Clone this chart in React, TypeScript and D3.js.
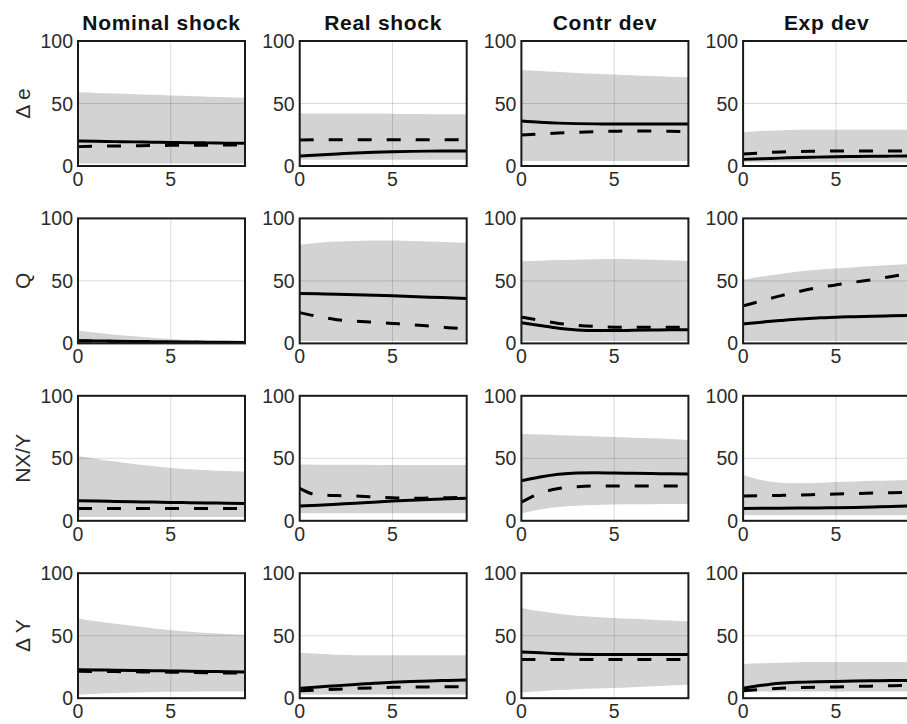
import React from "react";
import * as d3 from "d3";

// shocks (columns) and variables (rows)
const shocks = ["Nominal shock", "Real shock", "Contr dev", "Exp dev"];
const variables = ["\u0394 e", "Q", "NX/Y", "\u0394 Y"];
const horizons = [0, 1, 2, 3, 4, 5, 6, 7, 8, 9];
const xTicks = [0, 5];
const yTicks = [0, 50, 100];

// Δe row: one array per shock
const deHi = [
  [59, 58.5, 58, 57.5, 57, 56.5, 56, 55.5, 55, 54.6],
  [42, 42, 42, 42, 42, 41.8, 41.6, 41.5, 41.4, 41.3],
  [76.8, 76, 75.2, 74.5, 73.8, 73.2, 72.6, 72, 71.5, 71],
  [27, 28, 28.5, 29, 29, 29, 29, 29, 29, 29],
];
const deLo = [
  [2, 2, 2, 2, 2, 2, 2, 2, 2, 2],
  [5, 5, 5, 5, 5, 5, 5, 5, 5, 5],
  [4, 4, 4, 4, 4, 4, 4, 4, 4, 4],
  [3, 3, 3, 3, 3, 3, 3, 3, 3, 3],
];
const deSolid = [
  [20, 19.8, 19.5, 19.3, 19, 18.8, 18.6, 18.5, 18.3, 18.2],
  [8, 8.8, 9.6, 10.4, 11, 11.4, 11.7, 11.9, 12, 12.1],
  [36, 35, 34.3, 33.9, 33.7, 33.6, 33.6, 33.6, 33.6, 33.6],
  [5.3, 5.8, 6.3, 6.8, 7.1, 7.4, 7.6, 7.8, 7.9, 8],
];
const deDash = [
  [15.5, 15.8, 16, 16.2, 16.4, 16.5, 16.6, 16.7, 16.8, 16.8],
  [20.8, 21, 21, 21.1, 21.1, 21.1, 21.1, 21, 21, 21],
  [24.8, 25.6, 26.4, 27, 27.5, 27.8, 28, 28, 27.8, 27.6],
  [9.6, 10.5, 11.2, 11.6, 11.8, 12, 12, 12, 12, 12],
];

// Q row
const qHi = [
  [10.3, 8.5, 7, 5.8, 4.6, 3.6, 2.8, 2.1, 1.6, 1.2],
  [79, 80.5, 81.5, 82, 82.4, 82.3, 81.9, 81.5, 81, 80.5],
  [65.7, 66.2, 66.7, 67, 67.3, 67.5, 67.3, 67, 66.5, 66],
  [51, 53.5, 55.5, 57.5, 59, 60, 61, 62, 62.8, 63.5],
];
const qLo = [
  [0.3, 0.3, 0.3, 0.3, 0.3, 0.3, 0.3, 0.3, 0.3, 0.3],
  [2, 2, 2, 2, 2, 2, 2, 2, 2, 2],
  [2, 2, 2, 2, 2, 2, 2, 2, 2, 2],
  [2, 2, 2, 2, 2, 2, 2, 2, 2, 2],
];
const qSolid = [
  [2.2, 2, 1.8, 1.6, 1.4, 1.2, 1.1, 1, 0.9, 0.8],
  [40, 39.7, 39.4, 39, 38.6, 38.2, 37.6, 37, 36.5, 36],
  [16.5, 14.3, 12.2, 10.8, 10.3, 10.3, 10.5, 10.7, 10.9, 11],
  [15.7, 17, 18.3, 19.5, 20.3, 21, 21.4, 21.8, 22.1, 22.4],
];
const qDash = [
  [2, 1.8, 1.6, 1.4, 1.2, 1, 0.9, 0.8, 0.7, 0.6],
  [24.6, 21.5, 19, 17.8, 17, 16, 15, 13.8, 12.6, 11.6],
  [21, 18.5, 16, 14.5, 13.5, 13, 13, 13, 13, 13],
  [30, 34, 38, 41.5, 44.5, 46.8, 49, 51, 53.5, 56],
];

// NX/Y row
const nxHi = [
  [51.9, 49.5, 47.5, 45.5, 43.8, 42.3, 41.2, 40.4, 39.8, 39.3],
  [45, 44.9, 44.8, 44.8, 44.7, 44.7, 44.7, 44.7, 44.7, 44.7],
  [69.5, 69, 68.5, 68, 67.5, 67, 66.5, 66, 65.4, 64.7],
  [36.6, 32.5, 30.5, 30, 30.3, 31, 31.5, 32, 32.3, 32.6],
];
const nxLo = [
  [3, 3, 3, 3, 3, 3, 3, 3, 3, 3],
  [6, 6, 6, 6, 6, 6, 6, 6, 6, 6],
  [5.9, 9, 11, 12, 12.6, 13, 13.2, 13.3, 13.4, 13.4],
  [4.5, 4.5, 4.5, 4.5, 4.5, 4.5, 4.5, 4.5, 4.5, 4.5],
];
const nxSolid = [
  [16, 15.8, 15.5, 15.2, 15, 14.7, 14.5, 14.3, 14.1, 13.9],
  [11.8, 12.5, 13.3, 14, 14.9, 15.8, 16.5, 17.1, 17.6, 18],
  [32, 35, 37.2, 38.3, 38.5, 38.2, 38, 37.8, 37.6, 37.4],
  [9.9, 10, 10.1, 10.2, 10.3, 10.4, 10.7, 11.1, 11.5, 11.8],
];
const nxDash = [
  [9.9, 9.9, 9.9, 9.9, 9.9, 9.9, 9.9, 9.9, 9.9, 9.9],
  [26, 20.6, 20.2, 19.8, 19, 18.4, 18, 18.2, 18.5, 18.7],
  [15, 22, 25.8, 27.2, 27.8, 27.8, 27.8, 27.8, 27.8, 27.8],
  [19.8, 20, 20.3, 20.6, 21, 21.4, 21.8, 22.2, 22.5, 22.7],
];

// ΔY row
const dyHi = [
  [63.7, 61.5, 59.5, 57.8, 56, 54.3, 53.2, 52.2, 51.3, 50.5],
  [36.3, 35.5, 34.8, 34.4, 34.4, 34.4, 34.4, 34.4, 34.4, 34.4],
  [72.4, 69.5, 67.5, 66, 65, 64.2, 63.5, 62.8, 62.1, 61.5],
  [27.4, 28, 28.4, 28.7, 28.9, 29, 29, 29, 29, 29],
];
const dyLo = [
  [2.7, 3.5, 4.1, 4.6, 4.9, 5.1, 5.2, 5.3, 5.4, 5.4],
  [3, 3, 3, 3, 3, 3, 3, 3, 3, 3],
  [4.6, 5.5, 6.5, 7.2, 7.7, 8.1, 8.8, 9.5, 10.2, 10.8],
  [5.4, 5.4, 5.4, 5.4, 5.4, 5.4, 5.4, 5.4, 5.4, 5.4],
];
const dySolid = [
  [22.8, 22.6, 22.4, 22.2, 22, 21.8, 21.6, 21.4, 21.2, 21],
  [8, 9, 10, 11, 12, 12.7, 13.3, 13.8, 14.2, 14.6],
  [37, 36.3, 35.6, 35.1, 35, 35, 35, 35, 35, 35],
  [8, 10.3, 12, 12.8, 13.2, 13.4, 13.7, 13.9, 14.1, 14.2],
];
const dyDash = [
  [21.5, 21.4, 21.3, 21.1, 21, 20.8, 20.6, 20.4, 20.2, 20],
  [6, 6.6, 7.2, 7.8, 8.3, 8.7, 8.9, 9, 9.1, 9.2],
  [31, 31, 31, 31, 31, 31, 31, 31, 31, 31],
  [5.9, 7, 8, 8.5, 8.8, 9, 9.4, 9.7, 10, 10.2],
];

const rows = [
  { hi: deHi, lo: deLo, solid: deSolid, dash: deDash },
  { hi: qHi, lo: qLo, solid: qSolid, dash: qDash },
  { hi: nxHi, lo: nxLo, solid: nxSolid, dash: nxDash },
  { hi: dyHi, lo: dyLo, solid: dySolid, dash: dyDash },
];

const W = 907;
const H = 724;
const grid = { left: 78, top: 41, colStep: 221.7, rowStep: 177.4, pw: 167, ph: 125 };
const font = "'Liberation Sans', Arial, sans-serif";

function Panel({ r, c }: { r: number; c: number }) {
  const x0 = grid.left + c * grid.colStep;
  const y0 = grid.top + r * grid.rowStep;
  const x = d3.scaleLinear().domain([0, 9]).range([0, grid.pw]);
  const y = d3.scaleLinear().domain([0, 100]).range([grid.ph, 0]);
  const row = rows[r];

  const area = d3
    .area<number>()
    .x((d, i) => x(horizons[i]))
    .y0((d, i) => y(row.lo[c][i]))
    .y1((d) => y(d))
    .curve(d3.curveMonotoneX);
  const line = d3
    .line<number>()
    .x((d, i) => x(horizons[i]))
    .y((d) => y(d))
    .curve(d3.curveMonotoneX);

  return (
    <g transform={`translate(${x0},${y0})`}>
      <path d={area(row.hi[c]) || ""} fill="#d3d3d3" />
      {xTicks.map((t) => (
        <line key={"gx" + t} x1={x(t)} x2={x(t)} y1={0} y2={grid.ph} stroke="#000" strokeOpacity={0.15} strokeWidth={1} />
      ))}
      {yTicks.map((t) => (
        <line key={"gy" + t} x1={0} x2={grid.pw} y1={y(t)} y2={y(t)} stroke="#000" strokeOpacity={0.15} strokeWidth={1} />
      ))}
      <path d={line(row.dash[c]) || ""} fill="none" stroke="#000" strokeWidth={3} strokeDasharray="14,15" />
      <path d={line(row.solid[c]) || ""} fill="none" stroke="#000" strokeWidth={3} />
      <rect x={0} y={0} width={grid.pw} height={grid.ph} fill="none" stroke="#1a1a1a" strokeWidth={2} />
      {yTicks.map((t) => (
        <text key={"ty" + t} x={-5} y={y(t)} textAnchor="end" dominantBaseline="central" fontSize={19.5} fill="#2b2b2b" fontFamily={font}>
          {t}
        </text>
      ))}
      {xTicks.map((t) => (
        <text key={"tx" + t} x={x(t)} y={grid.ph + 20} textAnchor="middle" fontSize={19.5} fill="#2b2b2b" fontFamily={font}>
          {t}
        </text>
      ))}
      {r === 0 && (
        <text x={grid.pw / 2} y={-11} textAnchor="middle" fontSize={21} letterSpacing={0.7} fontWeight="bold" fill="#111" fontFamily={font}>
          {shocks[c]}
        </text>
      )}
      {c === 0 && (
        <text
          transform={`translate(${-48},${grid.ph / 2}) rotate(-90)`}
          textAnchor="middle"
          fontSize={21}
          fill="#2b2b2b"
          fontFamily={font}
        >
          {variables[r]}
        </text>
      )}
    </g>
  );
}

export default function App() {
  return (
    <svg width={W} height={H} style={{ position: "absolute", left: 0, top: 0, background: "#fff" }}>
      <rect width={W} height={H} fill="#fff" />
      {variables.map((v, r) =>
        shocks.map((s, c) => <Panel key={`${r}-${c}`} r={r} c={c} />)
      )}
    </svg>
  );
}
